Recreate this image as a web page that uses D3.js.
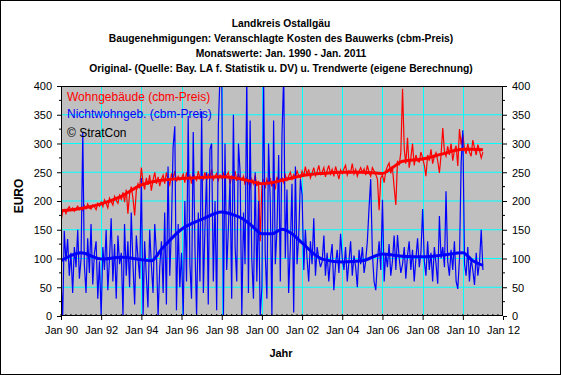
<!DOCTYPE html>
<html lang="de">
<head>
<meta charset="UTF-8">
<title>Landkreis Ostallgäu</title>
<script src="https://cdn.jsdelivr.net/npm/d3@7"></script>
<style>
  body { margin: 0; background: #fff; }
  text { font-family: "Liberation Sans", Arial, sans-serif; }
</style>
</head>
<body>
<div id="chart"></div>
<script>
// Titelzeilen
const titleLines = [
  "Landkreis Ostallgäu",
  "Baugenehmigungen: Veranschlagte Kosten des Bauwerks (cbm-Preis)",
  "Monatswerte: Jan. 1990 - Jan. 2011",
  "Original- (Quelle: Bay. LA f. Statistik u. DV) u. Trendwerte (eigene Berechnung)"
];
const legendLabels = ["Wohngebäude (cbm-Preis)", "Nichtwohngeb. (cbm-Preis)", "© StratCon"];
const yTicks = [0, 50, 100, 150, 200, 250, 300, 350, 400];
const xTickYears = [1990, 1992, 1994, 1996, 1998, 2000, 2002, 2004, 2006, 2008, 2010, 2012];

// Monatswerte Wohngebäude, Jan 1990 - Jan 2011 (je Zeile ein Jahr)
const wohn = [
  165, 182, 185, 178, 186, 190, 184, 188, 182, 187, 191, 185,
  189, 184, 192, 187, 195, 188, 186, 193, 190, 185, 196, 191,
  198, 190, 202, 196, 188, 205, 199, 193, 208, 201, 196, 210,
  203, 215, 198, 220, 178, 212, 225, 205, 175, 218, 230, 222,
  258, 232, 220, 240, 228, 245, 218, 236, 250, 230, 242, 226,
  238, 245, 230, 250, 236, 228, 246, 240, 252, 234, 243, 237,
  240, 247, 232, 250, 238, 244, 230, 248, 241, 236, 252, 239,
  244, 238, 250, 236, 246, 241, 255, 237, 243, 248, 236, 245,
  240, 248, 236, 245, 250, 230, 243, 238, 252, 235, 246, 239,
  236, 243, 228, 240, 233, 222, 238, 230, 245, 226, 235, 130,
  228, 236, 222, 238, 230, 240, 225, 235, 220, 242, 233, 238,
  240, 232, 245, 236, 243, 250, 238, 246, 241, 252, 244, 240,
  252, 243, 260, 246, 255, 240, 248, 258, 244, 251, 262, 246,
  250, 258, 242, 253, 262, 247, 255, 243, 260, 250, 238, 254,
  248, 256, 262, 245, 253, 250, 265, 247, 255, 243, 252, 258,
  249, 256, 245, 262, 250, 243, 258, 252, 246, 238, 184, 240,
  245, 232, 252, 260, 266, 248, 258, 224, 193, 270, 262, 285,
  395, 290, 265, 310, 258, 275, 300, 262, 280, 270, 268, 285,
  275, 262, 243, 280, 270, 290, 265, 278, 284, 270, 249, 280,
  327, 285, 278, 295, 280, 300, 270, 288, 296, 261, 325, 298,
  316, 290, 282, 300, 285, 278, 306, 292, 280, 298, 287, 275,
  285
];

// Monatswerte Nichtwohngebäude
const nichtwohn = [
  60, 0, 148, 95, 134, 70, 110, 40, 120, 85, 150, 65,
  100, 320, 90, 40, 135, 75, 160, 55, 110, 130, 30, 95,
  0, 120, 80, 150, 45, 100, 170, 60, 125, 30, 140, 90,
  110, 0, 160, 70, 130, 50, 180, 90, 20, 140, 100, 65,
  240, 0, 130, 70, 15, 150, 90, 40, 160, 110, 0, 85,
  130, 40, 180, 20, 260, 70, 150, 294, 330, 10, 160, 50,
  110, 0, 200, 60, 348, 90, 30, 320, 120, 0, 180, 60,
  356, 40, 150, 250, 20, 290, 300, 60, 200, 10, 332, 420,
  420, 0, 300, 80, 150, 240, 30, 350, 120, 60, 300, 250,
  0, 180, 90, 420, 40, 340, 100, 30, 250, 60, 200, 0,
  50, 420, 110, 30, 300, 200, 0, 340, 90, 150, 280, 60,
  318, 420, 100, 220, 40, 120, 230, 6, 260, 90, 140, 238,
  210, 80, 150, 100, 60, 130, 90, 170, 70, 120, 100, 85,
  95, 140, 70, 110, 60, 100, 125, 45, 90, 115, 75, 143,
  100, 80, 120, 60, 95, 130, 70, 105, 85, 50, 115, 90,
  120, 75, 95, 130, 186, 238, 110, 60, 45, 95, 130, 80,
  202, 60, 110, 85, 125, 70, 95, 140, 80, 141, 100, 75,
  90, 120, 65, 105, 130, 80, 115, 60, 100, 135, 85, 110,
  186, 95, 70, 130, 80, 110, 60, 120, 90, 56, 174, 100,
  120, 85, 217, 95, 70, 115, 80, 130, 60, 47, 100, 266,
  323, 90, 70, 120, 60, 100, 80, 54, 110, 70, 95, 150,
  80
];

// Trendwerte (Stützstellen, Jahr als Dezimalzahl)
const trendYears = [1990, 1991, 1992, 1993, 1994, 1994.5, 1995, 1996, 1997, 1998, 1998.5, 1999, 1999.5,
  2000, 2000.5, 2001, 2001.5, 2002, 2003, 2004, 2005, 2006, 2006.5, 2007, 2008, 2009, 2010, 2010.5, 2011];
const trendWohn = [183, 187, 195, 208, 228, 233, 236, 239, 241, 242, 241, 238, 234,
  230, 232, 236, 240, 244, 248, 250, 250, 248, 258, 269, 273, 282, 290, 290, 289];
const trendNicht = [96, 110, 99, 102, 98, 96, 116, 151, 168, 181, 177, 170, 157,
  143, 143, 151, 143, 127, 99, 94, 96, 108, 106, 104, 103, 106, 110, 96, 88];

const W = 561, H = 375;
const plot = { left: 61, right: 503, top: 86, bottom: 316 };

const svg = d3.select("#chart").append("svg")
  .attr("width", W).attr("height", H);

// Rahmen
svg.append("rect").attr("x", 0.5).attr("y", 0.5).attr("width", W - 1).attr("height", H - 1)
  .attr("fill", "#fff").attr("stroke", "#000");

const months = d3.timeMonth.range(new Date(1990, 0, 1), new Date(2011, 1, 1));
const yearToDate = y => new Date(Math.floor(y), Math.round((y % 1) * 12), 1);

const x = d3.scaleTime()
  .domain([new Date(1990, 0, 1), new Date(2012, 0, 1)])
  .range([plot.left, plot.right]);
const y = d3.scaleLinear().domain([0, 400]).range([plot.bottom, plot.top]);

// Plotfläche
svg.append("rect")
  .attr("x", plot.left).attr("y", plot.top)
  .attr("width", plot.right - plot.left).attr("height", plot.bottom - plot.top)
  .attr("fill", "#c0c0c0");

const xTickDates = xTickYears.map(v => new Date(v, 0, 1));

// Gitter
svg.append("g").selectAll("line").data(yTicks.slice(1, -1)).join("line")
  .attr("x1", plot.left).attr("x2", plot.right)
  .attr("y1", d => y(d)).attr("y2", d => y(d))
  .attr("stroke", "#00ffff").attr("stroke-width", 1);
svg.append("g").selectAll("line").data(xTickDates.slice(1, -1)).join("line")
  .attr("x1", d => Math.round(x(d)) + 0.5).attr("x2", d => Math.round(x(d)) + 0.5)
  .attr("y1", plot.top).attr("y2", plot.bottom)
  .attr("stroke", "#00ffff").attr("stroke-width", 1);

// Linien
svg.append("clipPath").attr("id", "clip").append("rect")
  .attr("x", plot.left).attr("y", plot.top)
  .attr("width", plot.right - plot.left).attr("height", plot.bottom - plot.top);
const g = svg.append("g").attr("clip-path", "url(#clip)");

const monthLine = d3.line().x((d, i) => x(months[i])).y(d => y(d));
const trendLine = d3.line().x((d, i) => x(yearToDate(trendYears[i]))).y(d => y(d))
  .curve(d3.curveMonotoneX);

g.append("path").attr("d", monthLine(wohn))
  .attr("fill", "none").attr("stroke", "#ff0000").attr("stroke-width", 1.2);
g.append("path").attr("d", monthLine(nichtwohn))
  .attr("fill", "none").attr("stroke", "#0000ff").attr("stroke-width", 1.2);
g.append("path").attr("d", trendLine(trendWohn))
  .attr("fill", "none").attr("stroke", "#ff0000").attr("stroke-width", 3);
g.append("path").attr("d", trendLine(trendNicht))
  .attr("fill", "none").attr("stroke", "#0000ff").attr("stroke-width", 3);

// Rahmen Plotfläche
svg.append("rect")
  .attr("x", plot.left + 0.5).attr("y", plot.top + 0.5)
  .attr("width", plot.right - plot.left - 1).attr("height", plot.bottom - plot.top - 1)
  .attr("fill", "none").attr("stroke", "#000");

// Achsen
const fmt = d3.timeFormat("%b %y");
const axX = svg.append("g").attr("transform", `translate(0,${plot.bottom})`)
  .call(d3.axisBottom(x).tickValues(xTickDates).tickFormat(fmt).tickSize(4).tickPadding(6));
const axL = svg.append("g").attr("transform", `translate(${plot.left},0)`)
  .call(d3.axisLeft(y).tickValues(yTicks).tickSize(4).tickPadding(5));
const axR = svg.append("g").attr("transform", `translate(${plot.right},0)`)
  .call(d3.axisRight(y).tickValues(yTicks).tickSize(4).tickPadding(5));
[axX, axL, axR].forEach(a => {
  a.select(".domain").remove();
  a.selectAll("text").attr("font-size", 11).attr("fill", "#000")
    .style("font-family", "'Liberation Sans', Arial, sans-serif");
  a.selectAll("line").attr("stroke", "#000");
});
axL.selectAll("text").attr("dy", "0.35em");
axR.selectAll("text").attr("dy", "0.35em");

// Zwischenstriche
const minorY = d3.range(25, 400, 50);
svg.append("g").selectAll("line").data(minorY).join("line")
  .attr("x1", plot.left - 2).attr("x2", plot.left)
  .attr("y1", d => y(d)).attr("y2", d => y(d)).attr("stroke", "#000");
svg.append("g").selectAll("line").data(minorY).join("line")
  .attr("x1", plot.right).attr("x2", plot.right + 2)
  .attr("y1", d => y(d)).attr("y2", d => y(d)).attr("stroke", "#000");
const minorX = d3.timeMonth.every(3).range(new Date(1990, 0, 1), new Date(2012, 0, 1));
svg.append("g").selectAll("line").data(minorX).join("line")
  .attr("x1", d => x(d)).attr("x2", d => x(d))
  .attr("y1", plot.bottom - 2).attr("y2", plot.bottom)
  .attr("stroke", "#000");

// Titel
svg.append("g").selectAll("text").data(titleLines).join("text")
  .attr("x", 281).attr("y", (d, i) => 26.5 + i * 15)
  .attr("text-anchor", "middle").attr("font-weight", "bold").attr("font-size", 10.3)
  .text(d => d);

// Legende
const legendColors = ["#ff0000", "#0000ff", "#000000"];
svg.append("g").selectAll("text").data(legendLabels).join("text")
  .attr("x", 67).attr("y", (d, i) => [101, 117.5, 136.5][i])
  .attr("font-size", 12).attr("fill", (d, i) => legendColors[i])
  .text(d => d);

// Achsentitel
svg.append("text").attr("x", 281).attr("y", 357)
  .attr("text-anchor", "middle").attr("font-weight", "bold").attr("font-size", 11)
  .text("Jahr");
svg.append("text").attr("transform", "translate(23,196) rotate(-90)")
  .attr("text-anchor", "middle").attr("font-weight", "bold").attr("font-size", 12)
  .text("EURO");
</script>
</body>
</html>
